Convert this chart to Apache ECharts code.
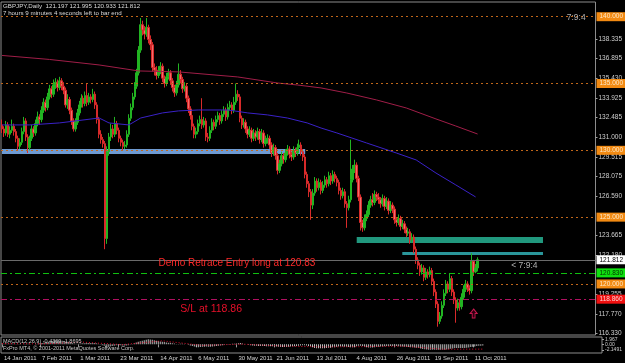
<!DOCTYPE html>
<html><head><meta charset="utf-8">
<script src="https://cdn.jsdelivr.net/npm/echarts@6/dist/echarts.min.js"></script>
<style>html,body{margin:0;padding:0;background:#000;}#c{width:625px;height:363px;}</style>
</head><body><div id="c"></div>
<script>
// Daily GBPJPY candles: [open, close, low, high]
const ohlc = [
[131.9,131.6,131.3,132.3],[131.6,131.3,131.0,131.8],[131.3,131.9,131.1,132.2],[131.9,131.2,131.0,132.1],[131.2,131.5,130.9,131.8],
[131.5,131.8,131.3,132.3],[131.8,131.4,131.1,132.0],[131.4,130.9,130.6,131.6],[130.9,130.3,130.0,131.1],[130.3,130.6,130.1,130.9],
[130.6,131.4,130.4,131.7],[131.4,132.2,131.2,132.5],[132.2,131.0,130.7,132.4],[131.0,130.2,129.8,131.2],[130.2,130.9,130.0,131.1],
[130.9,131.6,130.7,131.9],[131.6,131.3,131.0,131.8],[131.3,132.0,131.1,132.3],[132.0,132.5,131.8,132.9],[132.5,132.3,131.9,132.7],
[132.3,133.0,132.1,133.3],[133.0,133.6,132.8,133.9],[133.6,133.2,132.9,133.8],[133.2,134.0,133.0,134.3],[134.0,134.6,133.8,134.9],
[134.6,134.2,133.9,134.8],[134.2,134.9,134.0,135.3],[134.9,135.1,134.6,135.4],[135.1,134.7,134.4,135.3],[134.7,135.2,134.5,135.5],
[135.2,134.8,134.5,135.4],[134.8,134.5,134.2,135.1],[134.5,133.4,133.2,134.7],[133.4,133.8,133.1,134.2],[133.8,133.0,132.7,134.0],
[133.0,132.2,131.9,133.2],[132.2,131.6,131.4,132.4],[131.6,132.1,131.4,132.4],[132.1,132.8,131.9,133.1],[132.8,133.4,132.6,133.7],
[133.4,133.9,133.2,134.2],[133.9,133.5,133.2,134.1],[133.5,134.1,133.3,134.4],[134.1,133.6,133.3,135.0],[133.6,134.0,133.4,134.3],
[134.0,133.8,133.5,134.2],[133.8,134.2,133.6,134.6],[134.2,133.4,133.1,134.4],[133.4,132.3,132.0,133.6],[132.3,131.2,130.9,132.5],
[131.2,130.8,130.5,131.5],[130.8,130.5,130.2,131.0],[130.5,123.4,122.6,130.7],[123.4,129.9,123.0,130.3],[129.9,131.0,129.6,131.3],
[131.0,131.6,130.7,132.0],[131.6,131.2,130.9,131.9],[131.2,132.0,131.0,132.5],[132.0,131.5,131.2,132.2],[131.5,130.9,130.6,131.7],
[130.9,130.6,130.3,131.1],[130.6,130.3,130.0,130.8],[130.3,130.4,130.1,130.7],[130.4,131.2,130.2,131.5],[131.2,132.4,131.0,132.7],
[132.4,133.2,132.2,133.5],[133.2,134.0,133.0,134.3],[134.0,134.8,133.8,135.1],[134.8,135.8,134.6,136.1],[135.8,137.5,135.6,137.8],
[137.5,139.4,137.3,139.9],[139.4,139.0,138.6,139.7],[139.0,138.7,138.3,139.3],[138.7,139.2,138.5,139.9],[139.2,138.3,138.0,139.4],
[138.3,137.9,137.5,138.6],[137.9,136.2,135.9,138.1],[136.2,136.0,135.6,136.5],[136.0,135.6,135.3,136.3],[135.6,135.9,135.4,136.3],
[135.9,136.3,135.7,136.6],[136.3,135.4,135.1,136.5],[135.4,135.0,134.7,135.6],[135.0,135.5,134.8,135.8],[135.5,135.8,135.3,136.1],
[135.8,135.2,134.9,136.0],[135.2,134.7,134.4,135.4],[134.7,134.3,134.0,134.9],[134.3,134.9,134.1,135.2],[134.9,135.7,134.7,136.5],
[135.7,135.3,135.0,136.0],[135.3,134.6,134.3,135.5],[134.6,134.8,134.4,135.1],[134.8,133.9,133.6,135.0],[133.9,133.1,132.8,134.1],
[133.1,132.6,132.3,133.3],[132.6,131.8,131.5,132.8],[131.8,131.2,130.9,132.0],[131.2,131.4,130.9,131.7],[131.4,132.0,131.2,132.3],
[132.0,132.3,131.8,132.6],[132.3,131.9,131.6,133.9],[131.9,132.2,131.7,132.5],[132.2,131.0,130.7,132.4],[131.0,130.9,130.6,131.3],
[130.9,131.5,130.7,131.8],[131.5,132.1,131.3,132.4],[132.1,131.8,131.5,132.3],[131.8,132.3,131.6,132.6],[132.3,132.6,132.1,132.9],
[132.6,132.2,131.9,132.8],[132.2,132.7,132.0,133.0],[132.7,133.0,132.5,133.3],[133.0,132.5,132.2,133.2],[132.5,133.2,132.3,133.5],
[133.2,133.4,133.0,133.7],[133.4,133.0,132.7,133.6],[133.0,133.6,132.8,134.0],[133.6,134.2,133.4,135.0],[134.2,134.0,133.7,134.5],
[134.0,132.4,132.1,134.2],[132.4,131.9,131.6,132.6],[131.9,132.1,131.7,132.4],[132.1,131.6,131.3,132.3],[131.6,131.2,130.9,131.8],
[131.2,131.5,131.0,131.8],[131.5,130.9,130.6,131.7],[130.9,131.3,130.7,131.6],[131.3,131.0,130.7,131.5],[131.0,131.4,130.8,131.7],
[131.4,130.8,130.5,131.6],[130.8,131.3,130.6,131.6],[131.3,130.5,130.2,131.5],[130.5,130.8,130.3,131.1],[130.8,130.9,130.5,131.2],
[130.9,130.4,130.1,131.1],[130.4,129.8,129.5,130.6],[129.8,130.2,129.6,130.5],[130.2,129.6,129.3,130.4],[129.6,128.5,128.2,129.8],
[128.5,129.0,128.3,129.3],[129.0,129.6,128.8,129.9],[129.6,129.3,129.0,129.8],[129.3,129.8,129.1,130.1],[129.8,130.1,129.6,130.4],
[130.1,129.7,129.4,130.3],[129.7,129.5,129.2,129.9],[129.5,130.0,129.3,130.3],[130.0,129.8,129.5,130.2],[129.8,130.2,129.6,130.5],
[130.2,130.4,130.0,130.8],[130.4,129.9,129.6,130.6],[129.9,129.5,129.2,130.1],[129.5,128.2,127.9,129.7],[128.2,127.5,127.2,128.4],
[127.5,126.9,126.5,127.7],[126.9,125.9,124.8,127.1],[125.9,126.8,125.6,127.1],[126.8,127.7,126.6,128.0],[127.7,127.2,126.9,127.9],
[127.2,127.6,127.0,127.9],[127.6,127.0,126.7,127.8],[127.0,127.4,126.8,127.7],[127.4,127.8,127.2,128.1],[127.8,127.5,127.2,128.0],
[127.5,128.1,127.3,128.4],[128.1,127.7,127.4,128.3],[127.7,128.2,127.5,128.5],[128.2,127.9,127.6,128.4],[127.9,127.6,127.3,128.1],
[127.6,127.0,126.7,127.8],[127.0,126.6,126.3,127.2],[126.6,126.9,126.4,127.2],[126.9,126.0,125.7,127.1],[126.0,125.7,124.2,126.2],
[125.7,126.3,125.5,126.6],[126.3,127.8,126.1,130.8],[127.8,128.6,127.6,128.9],[128.6,128.9,128.3,129.3],[128.9,127.9,127.6,129.1],
[127.9,126.5,126.2,128.1],[126.5,124.6,124.0,126.7],[124.6,124.2,123.9,124.8],[124.2,124.9,124.0,125.2],[124.9,125.2,124.7,125.5],
[125.2,125.9,125.0,126.2],[125.9,126.3,125.7,126.6],[126.3,126.1,125.8,126.8],[126.1,126.7,125.9,127.0],[126.7,126.5,126.2,126.9],
[126.5,126.3,126.0,126.8],[126.3,126.0,125.7,126.5],[126.0,126.4,125.8,126.7],[126.4,125.8,125.5,126.6],[125.8,126.2,125.6,126.5],
[126.2,125.5,125.2,126.4],[125.5,125.9,125.3,126.2],[125.9,125.6,125.3,126.1],[125.6,124.8,124.5,125.8],[124.8,124.6,124.3,125.0],
[124.6,124.9,124.4,125.2],[124.9,124.3,124.0,125.1],[124.3,124.5,124.1,124.8],[124.5,124.1,123.8,124.7],[124.1,123.8,123.5,124.3],
[123.8,123.9,123.6,124.2],[123.9,123.3,123.0,124.1],[123.3,123.5,123.1,123.8],[123.5,122.6,122.3,123.7],[122.6,121.8,121.5,122.8],
[121.8,121.4,121.1,122.0],[121.4,120.9,120.6,121.6],[120.9,121.2,120.7,121.5],[121.2,120.5,120.2,121.4],[120.5,120.9,120.3,121.2],
[120.9,120.7,120.4,121.1],[120.7,121.0,120.5,121.3],[121.0,120.2,119.9,121.2],[120.2,119.4,119.1,120.4],[119.4,118.5,118.2,119.6],
[118.5,117.2,116.8,118.7],[117.2,117.6,117.0,117.9],[117.6,118.4,117.4,118.7],[118.4,119.3,118.2,119.6],[119.3,120.0,119.1,120.3],
[120.0,119.6,119.3,120.2],[119.6,120.4,119.4,120.8],[120.4,119.4,119.1,120.6],[119.4,118.8,118.5,119.6],[118.8,118.2,117.1,119.0],
[118.2,118.6,118.0,118.9],[118.6,118.3,118.0,118.8],[118.3,119.0,118.1,119.3],[119.0,119.6,118.8,119.9],[119.6,120.0,119.4,120.3],
[120.0,119.7,119.4,120.2],[119.7,119.5,119.2,119.9],[119.5,121.7,119.3,122.3],[121.7,120.9,120.6,121.8],[120.9,121.197,120.8,121.5],
[121.197,121.812,120.933,121.995]
];
// MACD main (histogram) per bar
const macd = [
0.3,0.2,0.3,0.2,0.2,0.3,0.2,0.1,-0.1,-0.1,
0.0,0.2,0.1,-0.1,-0.1,0.0,0.0,0.1,0.3,0.3,
0.5,0.7,0.8,1.0,1.2,1.3,1.4,1.5,1.5,1.5,
1.4,1.3,1.1,1.0,0.8,0.6,0.3,0.2,0.2,0.3,
0.4,0.4,0.5,0.5,0.5,0.5,0.5,0.4,0.2,-0.1,
-0.3,-0.5,-1.1,-1.0,-0.8,-0.6,-0.5,-0.3,-0.3,-0.3,
-0.4,-0.4,-0.4,-0.3,-0.1,0.1,0.4,0.7,1.0,1.2,
1.4,1.6,1.8,1.967,1.9,1.8,1.6,1.4,1.3,1.1,
1.0,0.9,0.7,0.6,0.6,0.4,0.3,0.1,0.1,0.2,
0.2,0.1,0.0,-0.2,-0.4,-0.6,-0.8,-1.0,-1.1,-1.0,
-0.9,-0.9,-0.8,-0.9,-0.9,-0.8,-0.7,-0.6,-0.5,-0.4,
-0.3,-0.2,-0.1,-0.1,0.1,0.2,0.2,0.3,0.4,0.5,
0.3,0.1,0.0,-0.2,-0.3,-0.4,-0.5,-0.5,-0.6,-0.6,
-0.6,-0.6,-0.7,-0.7,-0.7,-0.7,-0.8,-0.8,-0.9,-1.0,
-1.0,-1.0,-1.0,-0.9,-0.8,-0.7,-0.7,-0.6,-0.5,-0.4,
-0.3,-0.3,-0.4,-0.6,-0.8,-1.1,-1.4,-1.5,-1.5,-1.5,
-1.5,-1.5,-1.4,-1.3,-1.3,-1.1,-1.1,-0.9,-0.8,-0.8,
-0.8,-0.9,-0.9,-1.0,-1.1,-1.1,-0.9,-0.7,-0.5,-0.5,
-0.6,-0.9,-1.1,-1.2,-1.2,-1.2,-1.1,-1.0,-0.9,-0.8,
-0.8,-0.7,-0.6,-0.6,-0.6,-0.6,-0.6,-0.6,-0.7,-0.8,
-0.8,-0.9,-1.0,-1.0,-1.1,-1.1,-1.2,-1.3,-1.4,-1.6,
-1.8,-1.9,-2.0,-2.1,-2.1491,-2.1,-2.1,-2.1,-2.1,-2.1,
-2.1,-2.1,-2.0,-1.9,-1.7,-1.6,-1.4,-1.4,-1.4,-1.4,
-1.4,-1.4,-1.3,-1.2,-1.0,-0.9,-0.8,-0.6,-0.5,-0.5,
-0.4369
];
// MACD signal line, [barIndex, value]
const macdSignal = [[0,0.3],[20,0.2],[40,0.9],[60,-0.1],[80,1.4],[100,-0.4],[120,0.1],[140,-0.7],[160,-1.0],[180,-0.9],[200,-0.7],[220,-1.9],[240,-1.8695]];
// Moving averages, [barIndex, price]
const maSlow = [[0,137.10],[24,136.80],[49,136.39],[69,135.94],[89,135.87],[119,135.49],[139,135.04],[149,134.89],[161,134.67],[174,134.29],[189,133.77],[204,133.17],[219,132.35],[229,131.82],[240,131.22]];
const maFast = [[0,131.90],[14,131.90],[29,132.05],[49,132.42],[54,132.05],[64,131.90],[70,132.42],[81,132.80],[89,132.95],[99,133.02],[114,133.02],[124,132.80],[134,132.65],[144,132.42],[154,132.05],[161,131.67],[169,131.30],[184,130.55],[199,129.80],[209,129.28],[219,128.30],[229,127.41],[239,126.51]];
// Axis ticks
const priceTicks = [116.330,117.770,119.255,122.180,123.665,126.590,128.075,129.515,131.000,132.485,133.925,135.430,136.895,138.335];
const macdTicks = [1.967,0,-2.1491];
const macdTickText = ['1.967','0.00','-2.1491'];
const dateTickIndex = [0,19,38,58,78,97,117,136,156,176,196,215,235];
const dateTickText = ['14 Jan 2011','7 Feb 2011','1 Mar 2011','23 Mar 2011','14 Apr 2011','6 May 2011','30 May 2011','21 Jun 2011','13 Jul 2011','4 Aug 2011','26 Aug 2011','19 Sep 2011','11 Oct 2011'];
// Levels
const roundLevels = [140,135,130,125,120];
const roundLevelText = ['140.000','135.000','130.000','125.000','120.000'];
const bidPrice = 121.812, entryPrice = 120.83, stopPrice = 118.86;
// Zones: [fromBar, toBar, lowPrice, highPrice]
const zones = [[0,153,129.73,130.10],[179,273,123.07,123.52],[202,273,122.17,122.39]];
const zoneColors = ['#74a2dc','#23a085','#2c9ea2'];

const totalBars = 300;
const cats = Array.from({length: totalBars}, (_, i) => String(i));
const FONT = 'Liberation Sans';

const chart = echarts.init(document.getElementById('c'), null, {renderer: 'canvas'});

const levelLines = roundLevels.map((v, k) => ({
  yAxis: v,
  lineStyle: {color: '#c0661a', type: [2, 3], width: 1},
  label: {show: true, position: 'end', distance: 1, formatter: roundLevelText[k], backgroundColor: '#f28a12', color: '#ffe9c8', fontSize: 6.5, fontFamily: FONT, padding: [1, 3]}
}));
levelLines.push({
  yAxis: bidPrice, lineStyle: {color: '#6a6a6a', type: 'solid', width: 1},
  label: {show: true, position: 'end', distance: 1, formatter: '121.812', backgroundColor: '#ffffff', color: '#000', fontSize: 6.5, fontFamily: FONT, padding: [1, 3]}
});
levelLines.push({
  yAxis: entryPrice, lineStyle: {color: '#10c010', type: [6, 3, 2, 3], width: 1},
  label: {show: true, position: 'end', distance: 1, formatter: '120.830', backgroundColor: '#10e010', color: '#003000', fontSize: 6.5, fontFamily: FONT, padding: [1, 3]}
});
levelLines.push({
  yAxis: stopPrice, lineStyle: {color: '#b01060', type: [6, 3, 2, 3], width: 1},
  label: {show: true, position: 'end', distance: 1, formatter: '118.860', backgroundColor: '#f01010', color: '#ffd0d0', fontSize: 6.5, fontFamily: FONT, padding: [1, 3]}
});

const zoneAreas = zones.map((z, k) => [
  {xAxis: z[0], yAxis: z[2], itemStyle: {color: zoneColors[k], opacity: 0.95}},
  {xAxis: z[1], yAxis: z[3]}
]);

const notes = [
  {name: 'Demo Retrace Entry long at 120.83', coord: [79, 121.57], label: {color: '#ff2a2a', fontSize: 10}},
  {name: 'S/L at 118.86', coord: [90, 118.13], label: {color: '#e8102a', fontSize: 10.5}},
  {name: '< 7:9:4', coord: [257, 121.35], label: {color: '#b0b0b0', fontSize: 8.5}},
  {name: '7:9:4', coord: [285, 139.95], label: {color: '#b0b0b0', fontSize: 8.5}}
].map(n => Object.assign({symbol: 'circle', symbolSize: 0}, n, {
  label: Object.assign({show: true, position: 'right', distance: 0, formatter: '{b}', fontFamily: FONT}, n.label)
}));
notes.push({
  name: 'arrow', coord: [238, 117.79],
  symbol: 'path://M5,0 L10,5 L7,5 L7,10 L3,10 L3,5 L0,5 Z', symbolSize: [7, 9],
  itemStyle: {color: '#2a0010', borderColor: '#c8184e', borderWidth: 1},
  label: {show: false}
});

const option = {
  animation: false,
  backgroundColor: '#000000',
  textStyle: {fontFamily: FONT},
  title: [
    {text: 'GBPJPY,Daily  121.197 121.995 120.933 121.812', left: 3, top: 3, padding: 0, textStyle: {color: '#dcdcdc', fontSize: 6.2, fontWeight: 'normal', fontFamily: FONT}},
    {text: '7 hours 9 minutes 4 seconds left to bar end', left: 3, top: 10, padding: 0, textStyle: {color: '#dcdcdc', fontSize: 6.2, fontWeight: 'normal', fontFamily: FONT}},
    {text: 'MACD(12,26,9) -0.4369 -1.8695', left: 3, top: 338.5, padding: 0, textStyle: {color: '#c8c8c8', fontSize: 5.5, fontWeight: 'normal', fontFamily: FONT}},
    {text: 'FxPro MT4, \u00a9 2001-2011 MetaQuotes Software Corp.', left: 3, top: 345, padding: 0, textStyle: {color: '#c8c8c8', fontSize: 5.5, fontWeight: 'normal', fontFamily: FONT}}
  ],
  grid: [
    {left: 1, right: 23, top: 2, height: 333, show: true, borderColor: '#8c8c8c', borderWidth: 1, backgroundColor: '#000'},
    {left: 1, right: 23, top: 337, height: 16, show: true, borderColor: '#8c8c8c', borderWidth: 1, backgroundColor: '#000'}
  ],
  xAxis: [
    {gridIndex: 0, type: 'category', data: cats, boundaryGap: true, axisLine: {show: false}, axisTick: {show: false}, axisLabel: {show: false}, splitLine: {show: false}},
    {gridIndex: 1, type: 'category', data: cats, boundaryGap: true, axisLine: {show: false},
      axisTick: {show: true, alignWithLabel: true, length: 3, interval: (i) => dateTickIndex.indexOf(i) >= 0, lineStyle: {color: '#9a9a9a'}},
      axisLabel: {show: true, interval: (i) => dateTickIndex.indexOf(i) >= 0, align: 'left', margin: 2, padding: [0, 0, 0, 2], color: '#d4d4d4', fontSize: 6, fontFamily: FONT,
        formatter: (v) => { const k = dateTickIndex.indexOf(+v); return k >= 0 ? dateTickText[k] : ''; }},
      splitLine: {show: false}}
  ],
  yAxis: [
    {gridIndex: 0, type: 'value', position: 'right', min: 116.18, max: 141.10, scale: true,
      axisLine: {show: false}, splitLine: {show: false},
      axisTick: {show: true, length: 2, customValues: priceTicks, lineStyle: {color: '#a0a0a0'}},
      axisLabel: {show: true, customValues: priceTicks, margin: 3, color: '#cfcfcf', fontSize: 6.5, fontFamily: FONT, formatter: (v) => v.toFixed(3)}},
    {gridIndex: 1, type: 'value', position: 'right', min: -3.4, max: 2.9,
      axisLine: {show: false}, splitLine: {show: false},
      axisTick: {show: true, length: 2, customValues: macdTicks, lineStyle: {color: '#a0a0a0'}},
      axisLabel: {show: true, customValues: macdTicks, margin: 3, color: '#cfcfcf', fontSize: 5, fontFamily: FONT,
        formatter: (v) => { const k = macdTicks.indexOf(v); return k >= 0 ? macdTickText[k] : ''; }}}
  ],
  series: [
    {
      type: 'candlestick', xAxisIndex: 0, yAxisIndex: 0, data: ohlc, barWidth: 2,
      itemStyle: {color: '#22b422', borderColor: '#22b422', color0: '#f26c6c', borderColor0: '#d82a2a', borderWidth: 1},
      markLine: {silent: true, symbol: 'none', data: levelLines},
      markPoint: {silent: true, data: notes}
    },
    {type: 'line', xAxisIndex: 0, yAxisIndex: 0, data: maSlow, showSymbol: false, symbol: 'none', lineStyle: {color: '#a01e48', width: 1}, z: 3},
    {type: 'line', xAxisIndex: 0, yAxisIndex: 0, data: maFast, showSymbol: false, symbol: 'none', lineStyle: {color: '#3a22c8', width: 1}, z: 3,
      markArea: {silent: true, data: zoneAreas}},
    {type: 'bar', xAxisIndex: 1, yAxisIndex: 1, data: macd, barWidth: 1, itemStyle: {color: '#bdbdbd'}},
    {type: 'line', xAxisIndex: 1, yAxisIndex: 1, data: macdSignal, showSymbol: false, symbol: 'none', lineStyle: {color: '#e01030', width: 1, type: [1, 2]}}
  ]
};
chart.setOption(option);
</script>
</body></html>
